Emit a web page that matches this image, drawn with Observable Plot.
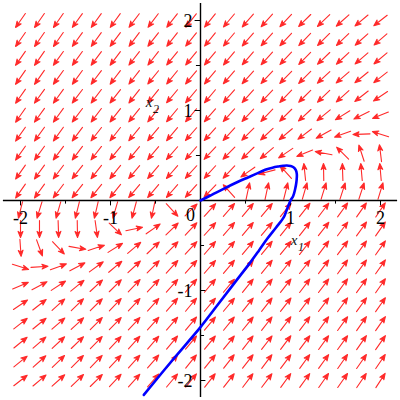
<!DOCTYPE html>
<html><head><meta charset="utf-8">
<script src="https://cdn.jsdelivr.net/npm/d3@7"></script>
<script src="https://cdn.jsdelivr.net/npm/@observablehq/plot@0.6"></script>
<style>body{margin:0;background:#fff}#chart svg{display:block}</style>
</head><body><div id="chart"></div>
<script>
// grid of the direction field (columns left→right, rows top→bottom)
const gridX = [-2, -1.789, -1.579, -1.368, -1.158, -0.947, -0.737, -0.526, -0.316, -0.105,
               0.105, 0.316, 0.526, 0.737, 0.947, 1.158, 1.368, 1.579, 1.789, 2];
const gridY = [2, 1.789, 1.579, 1.368, 1.158, 0.947, 0.737, 0.526, 0.316, 0.105,
               -0.105, -0.316, -0.526, -0.737, -0.947, -1.158, -1.368, -1.579, -1.789, -2];
// arrow directions, degrees clockwise from "up"
const angleRows = [
 [-145,-145,-145,-144,-144,-144,-143,-143,-142,-142, -141,-140,-139,-138,-137,-135,-134,-132,-130,-128],
 [-145,-145,-145,-144,-144,-143,-143,-142,-142,-141, -141,-140,-139,-138,-137,-136,-135,-134,-132,-131],
 [-145,-145,-144,-144,-143,-143,-142,-142,-141,-141, -140,-140,-139,-138,-137,-136,-134,-133,-131,-130],
 [-145,-145,-144,-144,-143,-143,-142,-141,-141,-140, -140,-139,-138,-137,-136,-135,-133,-131,-129,-128],
 [-145,-144,-144,-143,-143,-142,-142,-141,-140,-140, -140,-139,-138,-137,-136,-135,-134,-132,-128,-124],
 [-145,-144,-144,-143,-143,-142,-141,-141,-140,-140, -139,-138,-137,-136,-135,-133,-129,-122,-116,-112],
 [-145,-144,-144,-143,-142,-142,-141,-140,-140,-139, -138,-137,-135,-133,-130,-127,-119,-110,-92,-72],
 [-145,-144,-143,-143,-142,-141,-141,-140,-139,-139, -137,-136,-134,-130,-124,-112,-79,-45,-18,-7],
 [-145,-144,-143,-142,-142,-141,-140,-140,-139,-138, -138,-137,-125,-105,-42,-6,-1,-2,-5,-5],
 [-145,-144,-143,-142,-141,-141,-140,-140,-139,-138, -136,-42,12,12,14,16,17,18,18,17],
 [-166,-163,-164,-166,-167,-164,-165,-168,137,45, 42,41,40,40,39,38,37,36,35,34],
 [180,180,178,179,172,134,78,55,46,43, 42,41,40,40,39,38,38,37,36,35],
 [176,160,136,100,72,58,50,46,44,43, 41,41,40,39,39,38,37,37,36,35],
 [108,86,70,62,54,50,47,45,43,42, 41,40,40,39,38,38,37,36,36,35],
 [67,62,57,51,47,45,44,43,42,41, 40,40,39,39,38,37,37,36,36,35],
 [56,52,48,46,45,44,43,42,41,40, 40,40,39,38,38,37,37,36,36,35],
 [52,51,49,47,45,44,43,42,41,40, 40,39,39,38,37,37,36,36,35,35],
 [51,49,47,46,44,43,42,41,40,40, 39,39,38,38,37,37,36,36,35,35],
 [51,48,46,45,44,43,42,41,40,39, 39,38,38,37,37,36,36,35,35,34],
 [52,50,48,46,45,43,42,41,40,39, 38,38,37,37,36,36,35,35,34,33]
];
// trajectory (blue curve)
const curveX = [0, 0.12, 0.256, 0.4, 0.533, 0.63, 0.719, 0.8, 0.867, 0.92, 0.959, 1.0, 1.033, 1.058, 1.07,
                1.065, 1.05, 1.03, 1.0, 0.96, 0.926, 0.84, 0.741, 0.65, 0.556, 0.37, 0.185, 0, -0.315, -0.63];
const curveY = [0, 0.06, 0.13, 0.2, 0.259, 0.302, 0.341, 0.365, 0.378, 0.386, 0.389, 0.383, 0.37, 0.34, 0.297,
                0.2, 0.12, 0.05, 0, -0.1, -0.185, -0.3, -0.426, -0.555, -0.685, -0.926, -1.167, -1.407, -1.778, -2.16];
const xTickValues = [-2, -1, 1, 2];
const xTickLabels = ["-2", "-1", "1", "2"];
const yTickValues = [2, 1, -1, -2];
const yTickLabels = ["2", "1", "-1", "-2"];
const majorTicks = [-2, -1, 1, 2];
const minorTicks = [-1.5, -0.5, 0.5, 1.5];
const originLabel = "0";
const axisNames = ["x", "x"];
const axisSubs = ["1", "2"];

const field = [];
angleRows.forEach((row, r) => row.forEach((a, c) => field.push({x: gridX[c], y: gridY[r], a})));
const curve = curveX.map((x, i) => ({x, y: curveY[i]}));

// Maple-like arrow: thin shaft with a narrow pointed head
const mapleArrow = {
  draw(context, l) {
    const h = 6, w = 2.4;
    context.moveTo(0, 0);
    context.lineTo(0, -l + h * 0.6);
    context.moveTo(0, -l);
    context.lineTo(-w, -l + h);
    context.lineTo(0, -l + h * 0.7);
    context.lineTo(w, -l + h);
    context.closePath();
  }
};

const D = 200 / 90;
const font = "Liberation Serif, Times New Roman, serif";
const plot = Plot.plot({
  width: 400, height: 400, margin: 0,
  x: {domain: [-D, D], axis: null},
  y: {domain: [-D, D], axis: null},
  style: {background: "white", overflow: "visible"},
  marks: [
    Plot.vector(field, {x: "x", y: "y", rotate: "a", length: 17, anchor: "middle", shape: mapleArrow,
      stroke: "#ff2a2a", fill: "#ff2a2a", strokeWidth: 1.1}),
    Plot.ruleY([0], {x1: -2.19, x2: 2.19, stroke: "black", strokeWidth: 1.4}),
    Plot.ruleX([0], {y1: -2.19, y2: 2.19, stroke: "black", strokeWidth: 1.4}),
    Plot.ruleX(majorTicks, {x: d => d, y1: 0, y2: -0.06, stroke: "black", strokeWidth: 1}),
    Plot.ruleX(minorTicks, {x: d => d, y1: 0, y2: -0.04, stroke: "black", strokeWidth: 1}),
    Plot.ruleY(majorTicks.filter(d => d > 0), {y: d => d, x1: -0.06, x2: 0, stroke: "black", strokeWidth: 1}),
    Plot.ruleY(minorTicks.filter(d => d > 0), {y: d => d, x1: -0.045, x2: 0, stroke: "black", strokeWidth: 1}),
    Plot.ruleY(majorTicks.filter(d => d < 0), {y: d => d, x1: 0, x2: 0.06, stroke: "black", strokeWidth: 1}),
    Plot.ruleY(minorTicks.filter(d => d < 0), {y: d => d, x1: 0, x2: 0.045, stroke: "black", strokeWidth: 1}),
    Plot.line(curve, {x: "x", y: "y", stroke: "#0000ff", strokeWidth: 2.6, curve: "catmull-rom"}),
    Plot.text(xTickValues, {x: d => d, y: 0, text: (d, i) => xTickLabels[i], dy: 18,
      fontFamily: font, fontSize: 18, fill: "black"}),
    Plot.text([originLabel], {x: 0, y: 0, text: d => d, dx: -10, dy: 15,
      fontFamily: font, fontSize: 18, fill: "black"}),
    Plot.text(yTickValues, {x: 0, y: d => d, text: (d, i) => yTickLabels[i], dx: -8, dy: 1,
      textAnchor: "end", fontFamily: font, fontSize: 18, fill: "black"}),
    // axis titles x1 and x2
    Plot.text([axisNames[0]], {x: 1.039, y: -0.444, text: d => d, fontFamily: font, fontStyle: "italic", fontSize: 15, fill: "#111"}),
    Plot.text([axisSubs[0]], {x: 1.039, y: -0.444, text: d => d, dx: 7, dy: 7, fontFamily: font, fontStyle: "italic", fontSize: 12, fill: "#111"}),
    Plot.text([axisNames[1]], {x: -0.572, y: 1.094, text: d => d, fontFamily: font, fontStyle: "italic", fontSize: 15, fill: "#111"}),
    Plot.text([axisSubs[1]], {x: -0.572, y: 1.094, text: d => d, dx: 7, dy: 7, fontFamily: font, fontStyle: "italic", fontSize: 12, fill: "#111"})
  ]
});
document.getElementById("chart").appendChild(plot);
</script>
</body></html>
